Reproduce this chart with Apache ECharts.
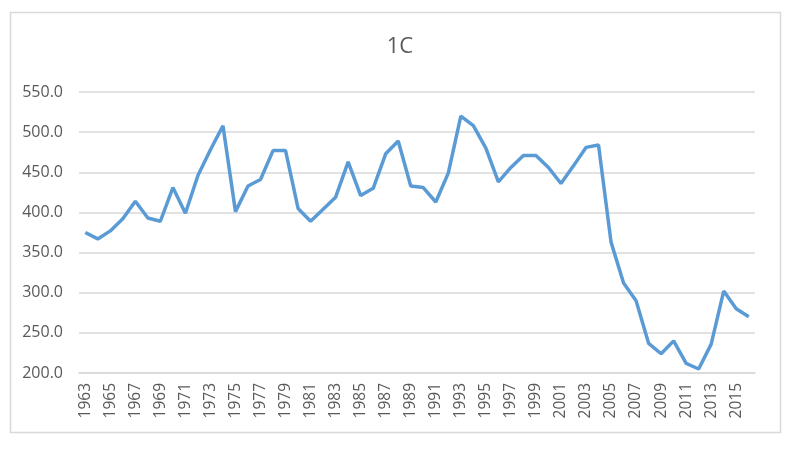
<!DOCTYPE html>
<html lang="en">
<head>
    <meta charset="UTF-8">
    <title>1C</title>
    <script src="https://cdn.jsdelivr.net/npm/echarts@6/dist/echarts.min.js"></script>
    <style>
        html,
        body {
            margin: 0;
            height: 100%;
            background: #fff;
        }
        #main {
            width: 800px;
            height: 449px;
        }
    </style>
</head>
<body>
    <div id="main"></div>
    <script type="text/javascript">
        const years = [];
        for (let y = 1963; y <= 2016; y++) years.push(String(y));

        const values = [
            375, 367, 377, 392, 414, 393, 389, 431, 399, 446,
            478, 508, 401, 433, 441, 477, 477, 405, 389, 404,
            419, 463, 421, 430, 473, 489, 433, 431, 413, 449,
            520, 508, 480, 438, 456, 471, 471, 456, 436, 458,
            481, 484, 363, 312, 290, 237, 224, 240, 212, 205,
            236, 302, 280, 270
        ];

        const yTicks = { min: 200, max: 550, step: 50 };
        const grey = '#595959';
        const gridGrey = '#d9d9d9';
        const font = 'Open Sans';

        const myChart = echarts.init(document.getElementById('main'));
        myChart.setOption({
            animation: false,
            textStyle: { fontFamily: font },
            title: {
                text: '1C',
                left: 'center',
                top: 31,
                textStyle: { color: grey, fontSize: 22, fontWeight: 'normal', fontFamily: font }
            },
            graphic: [{
                type: 'rect',
                shape: { x: 10.5, y: 12.5, width: 770, height: 420 },
                style: { fill: 'none', stroke: gridGrey, lineWidth: 1.5 }
            }],
            grid: { left: 79, right: 45, top: 92, bottom: 76 },
            xAxis: {
                type: 'category',
                data: years,
                boundaryGap: true,
                axisLine: { lineStyle: { color: gridGrey, width: 1.5 } },
                axisTick: { show: false },
                axisLabel: {
                    interval: 1,
                    rotate: 90,
                    margin: 10,
                    color: grey,
                    fontSize: 15.5,
                    fontFamily: font
                }
            },
            yAxis: {
                type: 'value',
                min: yTicks.min,
                max: yTicks.max,
                interval: yTicks.step,
                axisLine: { show: false },
                axisTick: { show: false },
                splitLine: { lineStyle: { color: gridGrey, width: 1.5 } },
                axisLabel: {
                    margin: 16,
                    color: grey,
                    fontSize: 16,
                    fontFamily: font,
                    formatter: v => v.toFixed(1)
                }
            },
            series: [{
                type: 'line',
                data: values,
                symbol: 'none',
                lineStyle: { color: '#5b9bd5', width: 3.5 },
                itemStyle: { color: '#5b9bd5' }
            }]
        });
    </script>
</body>
</html>
